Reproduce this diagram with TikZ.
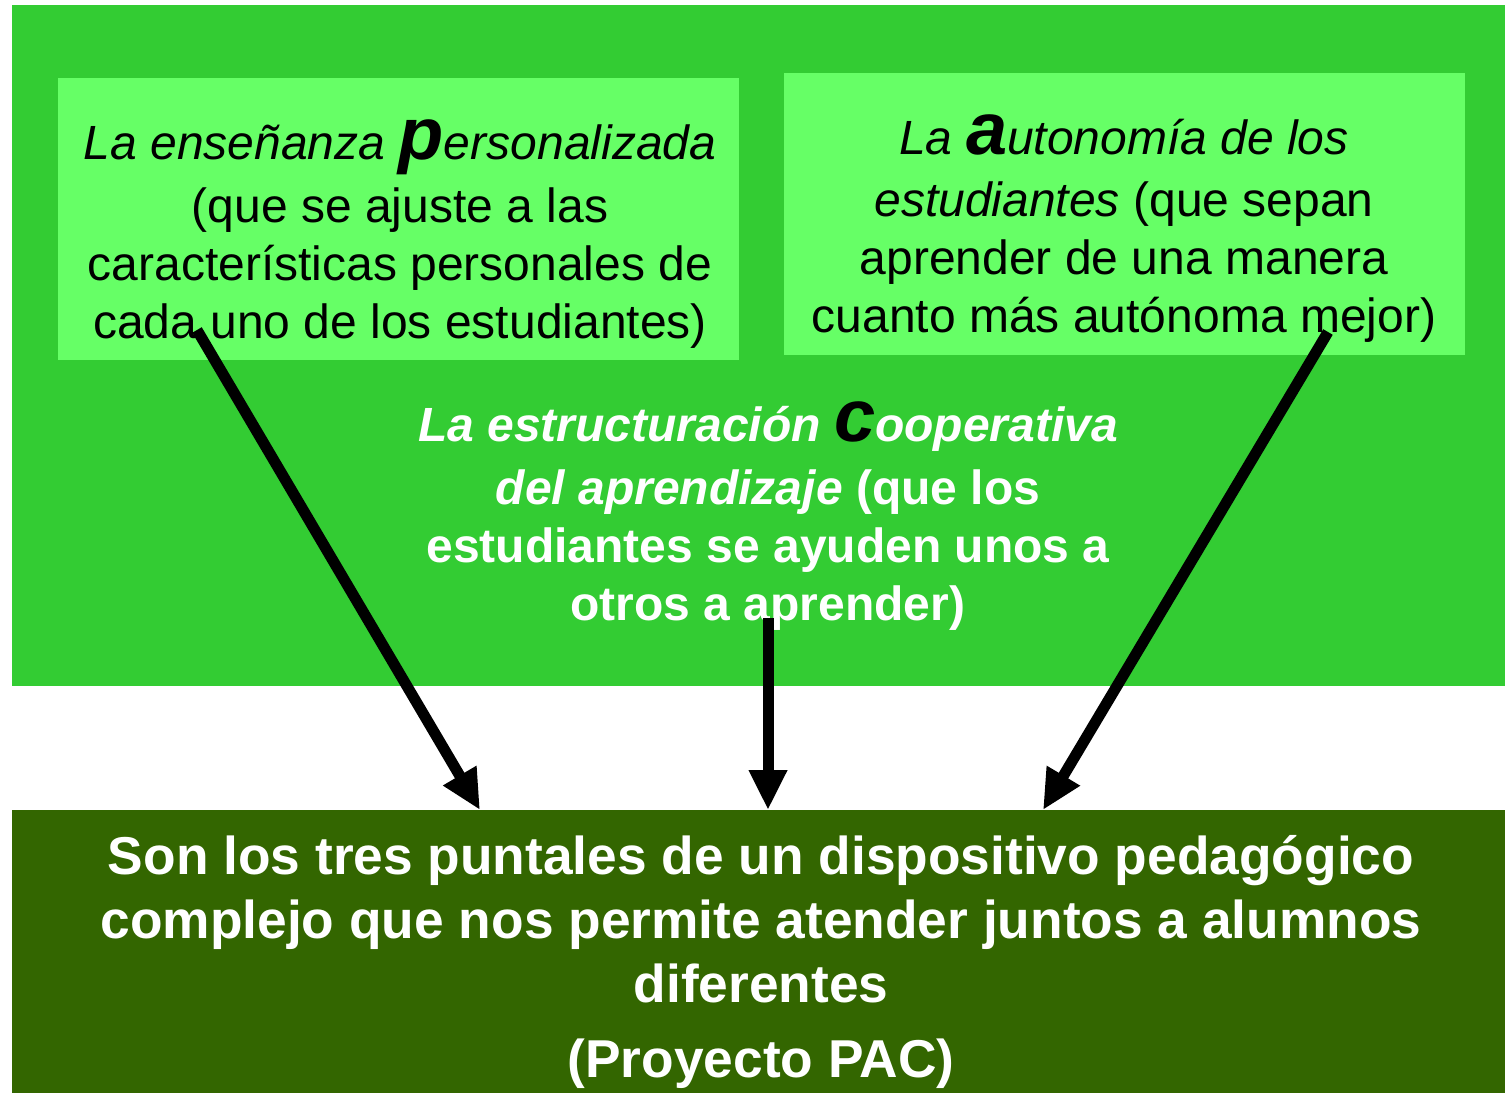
\documentclass[tikz,border=0pt]{standalone}
\usepackage{fontspec}
\setmainfont{Liberation Sans}
\usetikzlibrary{arrows.meta}
\usetikzlibrary{positioning}
\usetikzlibrary{calc}
\definecolor{fondo}{HTML}{33CC33}
\definecolor{claro}{HTML}{66FF66}
\definecolor{oscuro}{HTML}{336600}
\newcommand{\grande}[1]{{\fontsize{74}{58}\selectfont\bfseries #1}}

\begin{document}
\begin{tikzpicture}[x=1pt,y=-1pt,
  caja/.style={rectangle,inner sep=0pt,outer sep=0pt,anchor=north west},
  texto/.style={inner sep=0pt,align=center,anchor=base,font=\fontsize{48}{58}\selectfont},
  flecha/.style={line width=11pt,-{Triangle[width=36pt,length=40pt]}}]
  \useasboundingbox[fill=white] (0,0) rectangle (1505,1093);
  % cajas
  \node[caja,fill=fondo,minimum width=1493pt,minimum height=681pt] (marco) at (12,5) {};
  \node[caja,fill=claro,minimum width=681pt,minimum height=282pt] (lbox) at (58,78) {};
  \node[caja,fill=claro,minimum width=681pt,minimum height=282pt] (rbox) at (784,73) {};
  \node[caja,fill=oscuro,minimum width=1493pt,minimum height=283pt] (pac) at (12,810) {};
  % textos (anclados en la linea base de la ultima linea)
  \node[texto] (ltext) at (400,338) {{\itshape La enseñanza \grande{p}ersonalizada}\\[5pt]
    (que se ajuste a las\\
    características personales de\\
    cada uno de los estudiantes)};
  \node[texto] (rtext) at (1124,332) {{\itshape La \grande{a}utonomía de los}\\[4pt]
    {\itshape estudiantes} (que sepan\\
    aprender de una manera\\
    cuanto más autónoma mejor)};
  \node[texto,text=white,font=\fontsize{48}{58}\selectfont\bfseries] (ctext) at (768,620)
    {{\itshape La estructuración {\color{black}\grande{c}}ooperativa}\\[5pt]
    {\itshape del aprendizaje} (que los\\
    estudiantes se ayuden unos a\\
    otros a aprender)};
  \node[texto,text=white,font=\fontsize{53.3}{64}\selectfont\bfseries] (pactext) at (761,1077)
    {Son los tres puntales de un dispositivo pedagógico\\
    complejo que nos permite atender juntos a alumnos\\
    diferentes\\[11pt]
    (Proyecto PAC)};
  % flechas
  \coordinate (lfrom) at (197,330);
  \coordinate (cfrom) at (768,618);
  \coordinate (rfrom) at (1328,332);
  \coordinate (lto) at (480,810);
  \coordinate (rto) at (1043,810);
  \draw[flecha] (lfrom) -- (lto |- pac.north);
  \draw[flecha] (cfrom) -- (cfrom |- pac.north);
  \draw[flecha] (rfrom) -- (rto |- pac.north);
\end{tikzpicture}
\end{document}
